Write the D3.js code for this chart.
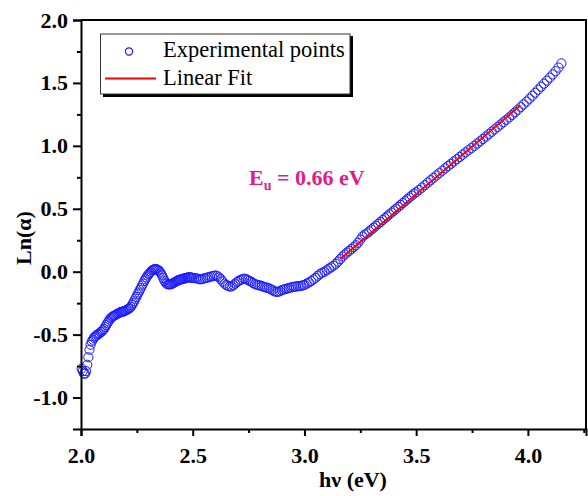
<!DOCTYPE html>
<html>
<head>
<meta charset="utf-8">
<script src="https://cdn.jsdelivr.net/npm/d3@7"></script>
<style>
  body { margin: 0; background: #fff; }
  text { font-family: "Liberation Serif", "Times New Roman", serif; }
</style>
</head>
<body>
<div id="chart"></div>
<script>
// photon energy (eV) of each experimental point
const hv = [
  2.003, 2.008, 2.013, 2.018, 2.023, 2.028, 2.033, 2.038, 2.043, 2.048,
  2.053, 2.058, 2.063, 2.068, 2.073, 2.078, 2.083, 2.088, 2.093, 2.098,
  2.103, 2.108, 2.113, 2.118, 2.123, 2.128, 2.133, 2.138, 2.143, 2.148,
  2.153, 2.158, 2.163, 2.168, 2.173, 2.178, 2.183, 2.188, 2.193, 2.198,
  2.203, 2.208, 2.213, 2.218, 2.223, 2.228, 2.233, 2.238, 2.243, 2.248,
  2.253, 2.258, 2.263, 2.268, 2.273, 2.278, 2.283, 2.288, 2.293, 2.298,
  2.303, 2.308, 2.313, 2.318, 2.323, 2.328, 2.333, 2.338, 2.343, 2.348,
  2.353, 2.358, 2.363, 2.368, 2.373, 2.378, 2.383, 2.388, 2.393, 2.398,
  2.403, 2.408, 2.413, 2.418, 2.423, 2.428, 2.433, 2.438, 2.443, 2.448,
  2.453, 2.458, 2.463, 2.468, 2.473, 2.478, 2.483, 2.488, 2.493, 2.498,
  2.506, 2.514, 2.522, 2.530, 2.538, 2.546, 2.554, 2.562, 2.570, 2.578,
  2.586, 2.594, 2.602, 2.610, 2.618, 2.626, 2.634, 2.642, 2.650, 2.658,
  2.666, 2.674, 2.682, 2.690, 2.698, 2.706, 2.714, 2.722, 2.730, 2.738,
  2.746, 2.754, 2.762, 2.770, 2.778, 2.786, 2.794, 2.802, 2.810, 2.818,
  2.826, 2.834, 2.842, 2.850, 2.858, 2.866, 2.874, 2.882, 2.890, 2.898,
  2.906, 2.914, 2.922, 2.930, 2.938, 2.946, 2.954, 2.962, 2.970, 2.978,
  2.986, 2.994,
  3.00, 3.01, 3.02, 3.03, 3.04, 3.05, 3.06, 3.07, 3.08, 3.09,
  3.10, 3.11, 3.12, 3.13, 3.14, 3.15, 3.16, 3.17, 3.18, 3.19,
  3.20, 3.21, 3.22, 3.23, 3.24, 3.25, 3.26, 3.27, 3.28, 3.29,
  3.30, 3.31, 3.32, 3.33, 3.34, 3.35, 3.36, 3.37, 3.38, 3.39,
  3.40, 3.41, 3.42, 3.43, 3.44, 3.45, 3.46, 3.47, 3.48, 3.49,
  3.500, 3.513, 3.526, 3.539, 3.552, 3.565, 3.578, 3.591, 3.604, 3.617,
  3.630, 3.643, 3.656, 3.669, 3.682, 3.695, 3.708, 3.721, 3.734, 3.747,
  3.760, 3.773, 3.786, 3.799, 3.812, 3.825, 3.838, 3.851, 3.864, 3.877,
  3.890, 3.903, 3.916, 3.929, 3.942, 3.955, 3.968, 3.981, 3.994, 4.007,
  4.020, 4.033, 4.046, 4.059, 4.072, 4.085, 4.098, 4.111, 4.124, 4.137,
  4.150
];

// Ln(alpha) for each point
const lnAlpha = [
  -0.77, -0.79, -0.81, -0.81, -0.79, -0.74, -0.68, -0.62, -0.58, -0.555,
  -0.54, -0.525, -0.515, -0.51, -0.50, -0.495, -0.49, -0.48, -0.475, -0.465,
  -0.455, -0.44, -0.425, -0.41, -0.395, -0.38, -0.37, -0.36, -0.355, -0.35,
  -0.345, -0.34, -0.335, -0.33, -0.325, -0.32, -0.32, -0.315, -0.315, -0.31,
  -0.305, -0.30, -0.295, -0.29, -0.28, -0.265, -0.25, -0.235, -0.215, -0.20,
  -0.18, -0.165, -0.145, -0.13, -0.11, -0.095, -0.075, -0.06, -0.045, -0.03,
  -0.02, -0.01, 0.00, 0.01, 0.015, 0.02, 0.02, 0.02, 0.015, 0.01,
  0.00, -0.015, -0.03, -0.05, -0.07, -0.085, -0.095, -0.10, -0.10, -0.10,
  -0.10, -0.095, -0.09, -0.085, -0.08, -0.075, -0.07, -0.065, -0.065, -0.06,
  -0.06, -0.055, -0.055, -0.05, -0.05, -0.045, -0.045, -0.045, -0.045, -0.05,
  -0.05, -0.052, -0.055, -0.06, -0.06, -0.057, -0.052, -0.048, -0.045, -0.04,
  -0.037, -0.033, -0.03, -0.035, -0.045, -0.06, -0.078, -0.095, -0.105, -0.113,
  -0.118, -0.117, -0.107, -0.095, -0.082, -0.073, -0.065, -0.06, -0.055, -0.058,
  -0.065, -0.073, -0.08, -0.09, -0.098, -0.103, -0.107, -0.11, -0.115, -0.12,
  -0.125, -0.128, -0.132, -0.14, -0.148, -0.156, -0.16, -0.16, -0.155, -0.147,
  -0.142, -0.138, -0.135, -0.13, -0.126, -0.122, -0.12, -0.118, -0.115, -0.115,
  -0.112, -0.108,
  -0.105, -0.095, -0.085, -0.075, -0.062, -0.048, -0.032, -0.018, -0.008, 0.00,
  0.012, 0.025, 0.035, 0.048, 0.062, 0.08, 0.10, 0.12, 0.137, 0.152,
  0.165, 0.18, 0.195, 0.21, 0.23, 0.255, 0.28, 0.295, 0.305, 0.32,
  0.335, 0.35, 0.365, 0.38, 0.395, 0.41, 0.425, 0.44, 0.455, 0.47,
  0.485, 0.50, 0.515, 0.53, 0.545, 0.56, 0.575, 0.59, 0.605, 0.62,
  0.632, 0.65, 0.668, 0.688, 0.708, 0.727, 0.746, 0.765, 0.784, 0.803,
  0.822, 0.84, 0.858, 0.876, 0.894, 0.912, 0.93, 0.948, 0.965, 0.982,
  1.00, 1.018, 1.036, 1.055, 1.074, 1.093, 1.112, 1.131, 1.15, 1.169,
  1.188, 1.207, 1.226, 1.246, 1.266, 1.287, 1.308, 1.33, 1.352, 1.375,
  1.398, 1.422, 1.446, 1.47, 1.494, 1.518, 1.542, 1.567, 1.593, 1.622,
  1.655
];

// linear fit: Ln(a) = slope*hv + intercept, slope = 1/Eu
const fitRange = [3.16, 3.965];
const fitSlope = 1 / 0.66;
const fitIntercept = -4.688;

const xTicks = [2.0, 2.5, 3.0, 3.5, 4.0];
const xMinor = [2.25, 2.75, 3.25, 3.75, 4.25];
const yTicks = [-1.0, -0.5, 0.0, 0.5, 1.0, 1.5, 2.0];
const yMinor = [-0.75, -0.25, 0.25, 0.75, 1.25, 1.75];

const legendLabels = ["Experimental points", "Linear Fit"];

// plot box in page pixels
const plot = {left: 81, right: 586, top: 20, bottom: 429};
const W = 588, H = 496;

const svg = d3.select("#chart")
  .append("svg")
  .attr("width", W)
  .attr("height", H);

const x = d3.scaleLinear().domain([2.0, 4.26]).range([plot.left, plot.right]);
const y = d3.scaleLinear().domain([-1.25, 2.0]).range([plot.bottom, plot.top]);

// data points
const pts = hv.map((d, i) => ({e: d, v: lnAlpha[i]}));
svg.append("g")
  .selectAll("circle")
  .data(pts)
  .join("circle")
  .attr("cx", d => x(d.e))
  .attr("cy", d => y(d.v))
  .attr("r", 4.6)
  .attr("fill", "none")
  .attr("stroke", "#1a1aff")
  .attr("stroke-width", 1);

// fit line
svg.append("path")
  .datum(fitRange)
  .attr("fill", "none")
  .attr("stroke", "#ff0000")
  .attr("stroke-width", 2)
  .attr("d", d3.line()
    .x(d => x(d))
    .y(d => y(fitSlope * d + fitIntercept)));

// frame top + right
svg.append("path")
  .attr("d", `M${plot.left},${plot.top}H${plot.right}V${plot.bottom}`)
  .attr("fill", "none")
  .attr("stroke", "#000")
  .attr("stroke-width", 2);

const fmt = d => d.toFixed(1);

// x axis
const xAxis = svg.append("g")
  .attr("transform", `translate(0,${plot.bottom})`)
  .call(d3.axisBottom(x).tickValues(xTicks).tickFormat(fmt).tickSize(7).tickPadding(6));
svg.append("g")
  .attr("transform", `translate(0,${plot.bottom})`)
  .call(d3.axisBottom(x).tickValues(xMinor).tickFormat("").tickSize(4))
  .select(".domain").remove();

// y axis
const yAxis = svg.append("g")
  .attr("transform", `translate(${plot.left},0)`)
  .call(d3.axisLeft(y).tickValues(yTicks).tickFormat(fmt).tickSize(8).tickPadding(5));
svg.append("g")
  .attr("transform", `translate(${plot.left},0)`)
  .call(d3.axisLeft(y).tickValues(yMinor).tickFormat("").tickSize(4))
  .select(".domain").remove();

svg.selectAll(".domain").attr("stroke-width", 2).attr("stroke", "#000");
svg.selectAll(".tick line").attr("stroke-width", 2).attr("stroke", "#000");
svg.selectAll(".tick text")
  .style("font-family", "'Liberation Serif', serif")
  .style("font-size", "22px")
  .style("font-weight", "bold")
  .attr("fill", "#000");
xAxis.selectAll(".tick text").attr("dy", "0.95em");

// axis titles
svg.append("text")
  .attr("x", 353)
  .attr("y", 487)
  .attr("text-anchor", "middle")
  .attr("font-size", 22)
  .attr("font-weight", "bold")
  .text("hν (eV)");

svg.append("text")
  .attr("transform", "translate(31,238) rotate(-90)")
  .attr("text-anchor", "middle")
  .attr("font-size", 22)
  .attr("font-weight", "bold")
  .text("Ln(α)");

// Eu annotation
const ann = svg.append("text")
  .attr("x", 249)
  .attr("y", 185)
  .attr("font-size", 22)
  .attr("font-weight", "bold")
  .attr("fill", "#e6198a");
ann.append("tspan").text("E");
ann.append("tspan").attr("font-size", 14).attr("dy", 5).text("u");
ann.append("tspan").attr("dy", -5).text(" = 0.66 eV");

// legend
const lg = svg.append("g");
lg.append("rect")
  .attr("x", 103).attr("y", 36)
  .attr("width", 250).attr("height", 61)
  .attr("fill", "#000");
lg.append("rect")
  .attr("x", 100.5).attr("y", 34)
  .attr("width", 249.5).attr("height", 60)
  .attr("fill", "#fff")
  .attr("stroke", "#333")
  .attr("stroke-width", 1);
lg.append("circle")
  .attr("cx", 129).attr("cy", 51.5).attr("r", 3.6)
  .attr("fill", "none").attr("stroke", "#1a1aff").attr("stroke-width", 1.2);
lg.append("line")
  .attr("x1", 105).attr("x2", 156)
  .attr("y1", 78.5).attr("y2", 78.5)
  .attr("stroke", "#ff0000").attr("stroke-width", 2);
lg.selectAll("text.lab")
  .data(legendLabels)
  .join("text")
  .attr("class", "lab")
  .attr("x", 163)
  .attr("y", (d, i) => 57 + i * 28)
  .attr("font-size", 22.5)
  .text(d => d);
</script>
</body>
</html>
